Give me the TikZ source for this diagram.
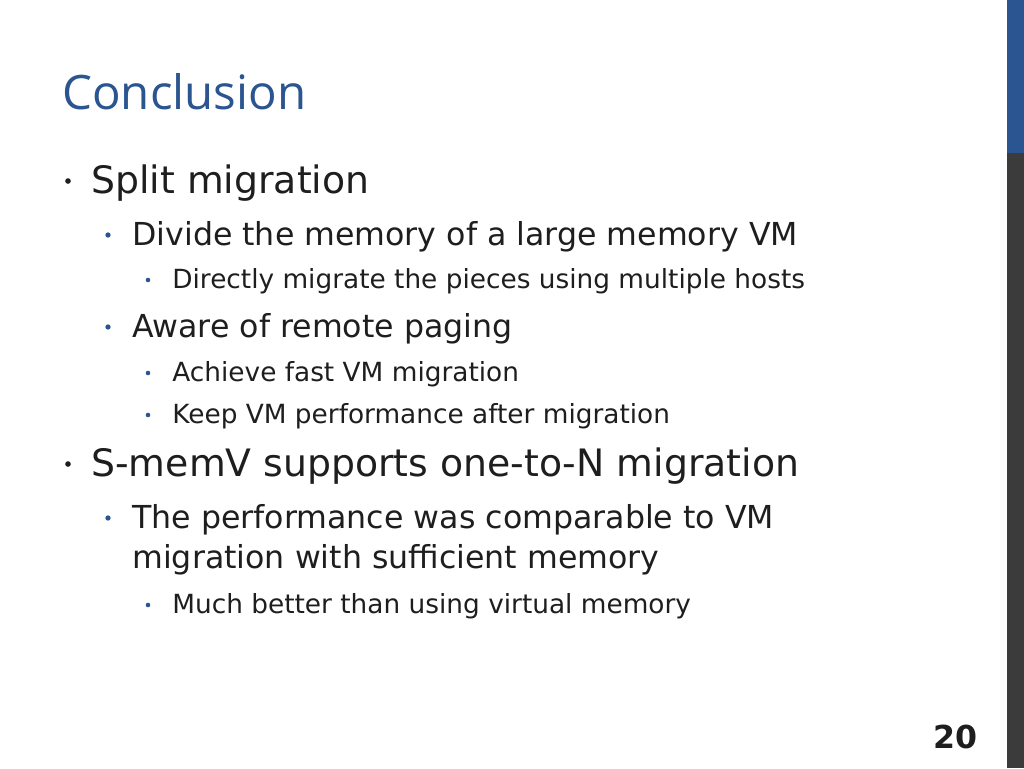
\documentclass[tikz,border=0pt]{standalone}
\usepackage{fontspec}
\setmainfont{DejaVu Sans}
\newfontfamily\titlefont{Open Sans}
\definecolor{slideblue}{HTML}{2A5590}
\definecolor{bargray}{HTML}{3B3B3B}
\definecolor{textgray}{HTML}{1E1E1E}
\tikzset{
  lvlone/.style={anchor=base west,inner sep=0pt,text=textgray,font=\fontsize{21.5}{26}\selectfont},
  lvltwo/.style={anchor=base west,inner sep=0pt,text=textgray,font=\fontsize{18}{22}\selectfont},
  lvlthree/.style={anchor=base west,inner sep=0pt,text=textgray,font=\fontsize{15}{18}\selectfont},
  dotone/.style={circle,fill=textgray,inner sep=0pt,minimum size=3.2pt},
  dottwo/.style={circle,fill=slideblue,inner sep=0pt,minimum size=3pt},
  dotthree/.style={circle,fill=slideblue,inner sep=0pt,minimum size=2.6pt}
}
\begin{document}
\begin{tikzpicture}[x=0.02cm,y=-0.02cm]
  \useasboundingbox (0,0) rectangle (1024,768);
  % side bar
  \fill[bargray] (1007,0) rectangle (1024,768);
  \fill[slideblue] (1007,0) rectangle (1024,153);
  % title
  \node[anchor=base west,inner sep=0pt,text=slideblue,font=\titlefont\fontsize{27}{32}\selectfont] (title) at (62,109) {Conclusion};
  % bullets
  \node[dotone] (b1) at (68,181) {};
  \node[lvlone] (t1) at (91,193) {Split migration};
  \node[dottwo] (b2) at (108,235) {};
  \node[lvltwo] (t2) at (132,245) {Divide the memory of a large memory VM};
  \node[dotthree] (b3) at (148,280) {};
  \node[lvlthree] (t3) at (172,288) {Directly migrate the pieces using multiple hosts};
  \node[dottwo] (b4) at (108,327) {};
  \node[lvltwo] (t4) at (132,337) {Aware of remote paging};
  \node[dotthree] (b5) at (148,373) {};
  \node[lvlthree] (t5) at (172,381) {Achieve fast VM migration};
  \node[dotthree] (b6) at (148,415) {};
  \node[lvlthree] (t6) at (172,423) {Keep VM performance after migration};
  \node[dotone] (b7) at (68,464) {};
  \node[lvlone] (t7) at (91,476) {S-memV supports one-to-N migration};
  \node[dottwo] (b8) at (108,518) {};
  \node[lvltwo] (t8) at (132,528) {The performance was comparable to VM};
  \node[lvltwo] (t9) at (132,568) {migration with sufficient memory};
  \node[dotthree] (b10) at (148,605) {};
  \node[lvlthree] (t10) at (172,613) {Much better than using virtual memory};
  % page number
  \node[anchor=base,inner sep=0pt,text=textgray,font=\bfseries\fontsize{18}{22}\selectfont] (page) at (955,748) {20};
\end{tikzpicture}
\end{document}
